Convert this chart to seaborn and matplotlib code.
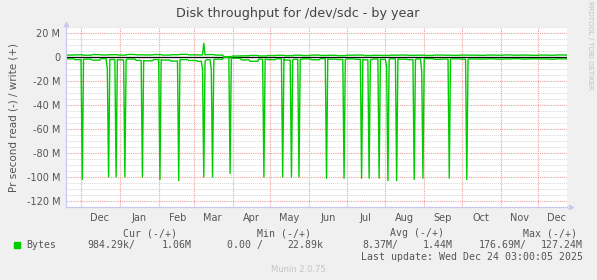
import numpy as np
import pandas as pd
import matplotlib
matplotlib.use("Agg")
import matplotlib.pyplot as plt
import seaborn as sns

# munin yearly graph, values in MB/s, one value per week for the baseline
start_day = "2024-11-19"
end_day = "2025-12-24"

write_weekly = [1.6, 1.8, 1.5, 2.0, 1.7, 1.9, 1.6, 2.1, 1.8, 1.7,
                2.0, 1.6, 1.9, 2.2, 1.8, 1.7, 2.0, 1.6,
                0.3, 0.8,
                1.0, 1.3, 0.9, 1.2, 1.4, 1.1, 1.5, 1.2, 1.6, 1.3,
                1.4, 1.1, 1.5, 1.6, 1.2, 1.4, 1.3, 1.5, 1.6, 1.4,
                1.5, 1.3, 1.6, 1.5, 1.4, 1.6, 1.5, 1.4, 1.6, 1.5,
                1.7, 1.5, 1.6, 1.4, 1.6, 1.5, 1.7, 1.6]
read_weekly = [-1.5, -2.2, -1.8, -2.6, -1.4, -2.0, -2.4, -1.7, -2.8, -3.2,
               -2.1, -2.6, -3.4, -2.2, -2.9, -3.6, -2.3, -1.8,
               -0.4, -1.0,
               -2.4, -3.6, -1.8, -2.2, -1.5, -2.6, -1.9, -1.6, -2.3, -1.4,
               -1.8, -2.1, -1.6, -1.9, -2.4, -1.7, -2.0, -1.5, -1.8, -2.2,
               -1.6, -1.4, -1.9, -1.7, -1.5, -1.8, -1.6, -1.7, -1.5, -1.8,
               -1.6, -1.4, -1.7, -1.5, -1.6, -1.8, -1.5, -1.6]

# big read bursts (backups)
spike_dates = ["2024-12-02", "2024-12-22", "2024-12-23", "2024-12-29", "2025-01-05",
               "2025-01-19", "2025-02-02", "2025-02-17", "2025-03-08", "2025-03-09",
               "2025-03-15", "2025-03-16", "2025-03-30", "2025-04-26", "2025-05-11",
               "2025-05-18", "2025-05-24", "2025-06-15", "2025-06-29", "2025-07-13",
               "2025-07-19", "2025-07-27", "2025-08-02", "2025-08-03", "2025-08-10",
               "2025-08-24", "2025-08-30", "2025-08-31", "2025-09-21", "2025-10-05"]
spike_values = [-102, -10, -100, -100, -100,
                -100, -102, -103, -10, -100,
                -10, -100, -97, -100, -100,
                -100, -100, -101, -101, -101,
                -101, -101, -8, -103, -103,
                -102, -12, -101, -101, -102]
write_spike_dates = ["2025-03-09"]
write_spike_values = [11.5]

month_labels = ["Dec", "Jan", "Feb", "Mar", "Apr", "May", "Jun",
                "Jul", "Aug", "Sep", "Oct", "Nov", "Dec"]
y_ticks = [20, 0, -20, -40, -60, -80, -100, -120]

legend_heads = ["Cur (-/+)", "Min (-/+)", "Avg (-/+)", "Max (-/+)"]
legend_vals = ["984.29k/", "1.06M", "0.00 /", "22.89k",
               "8.37M/", "1.44M", "176.69M/", "127.24M"]
last_update = "Last update: Wed Dec 24 03:00:05 2025"

days = pd.date_range(start_day, end_day, freq="D")
week_idx = np.arange(len(days)) // 7
read = pd.Series(np.array(read_weekly)[week_idx], index=days)
write = pd.Series(np.array(write_weekly)[week_idx], index=days)
read[pd.to_datetime(spike_dates)] = spike_values
write[pd.to_datetime(write_spike_dates)] = write_spike_values

df = pd.DataFrame({"day": days, "read": read.values * 1e6, "write": write.values * 1e6})

sns.set_theme(style="white")
plt.rcParams["font.family"] = ["DejaVu Sans"]
txt = "#555555"
green = "#00cc00"

fig = plt.figure(figsize=(5.97, 2.8), dpi=100, facecolor="#f0f0f0")
ax = fig.add_axes([66 / 597, 73 / 280, 501 / 597, 180 / 280])
ax.set_facecolor("white")

sns.lineplot(data=df, x="day", y="write", color=green, lw=1, ax=ax)
sns.lineplot(data=df, x="day", y="read", color=green, lw=1, ax=ax)
ax.axhline(0, color="black", lw=0.9, zorder=1)

ax.set_xlim(days[0], days[-1])
ax.set_ylim(-125e6, 25e6)

ax.set_yticks([v * 1e6 for v in y_ticks])
ax.set_yticklabels([f"{v} M" if v != 0 else "0" for v in y_ticks])
ax.set_yticks(np.arange(-125e6, 25.1e6, 5e6), minor=True)

month_starts = pd.date_range("2024-12-01", "2025-12-01", freq="MS")
ax.set_xticks(month_starts)
ax.set_xticklabels([])
ax.set_xticks(month_starts + pd.Timedelta(days=15), minor=True)
ax.set_xticklabels(month_labels, minor=True)

ax.tick_params(axis="both", which="both", length=0, colors=txt, labelsize=7)
ax.tick_params(axis="y", pad=4)
ax.tick_params(axis="x", which="minor", pad=4)

ax.yaxis.grid(True, which="minor", color="#d6d6d6", ls=(0, (1, 1)), lw=0.7)
ax.yaxis.grid(True, which="major", color="#f2a0a0", ls=(0, (1, 1)), lw=0.8)
ax.xaxis.grid(True, which="major", color="#f2a0a0", ls=(0, (1, 1)), lw=0.8)
ax.set_axisbelow(True)

for s in ["top", "right"]:
    ax.spines[s].set_visible(False)
for s in ["left", "bottom"]:
    ax.spines[s].set_color("#c8c8f0")
    ax.spines[s].set_linewidth(0.9)
ax.plot(1.008, 0, ">", transform=ax.transAxes, color="#c8c8f0", ms=3, clip_on=False)
ax.plot(0, 1.015, "^", transform=ax.transAxes, color="#c8c8f0", ms=3, clip_on=False)

ax.set_xlabel("")
ax.set_ylabel("Pr second read (-) / write (+)", color=txt, fontsize=7.5, labelpad=6)

fig.text(298 / 597, 1 - 13 / 280, "Disk throughput for /dev/sdc - by year",
         ha="center", va="center", color="#444444", fontsize=9.2)
fig.text(590 / 597, 1 - 45 / 280, "RRDTOOL / TOBI OETIKER", rotation=270,
         ha="center", va="center", color="#c0c0c0", fontsize=5)

mono = dict(family="DejaVu Sans Mono", fontsize=7.15, color=txt, va="center")
for head, x in zip(legend_heads, [123, 257, 390, 523]):
    fig.text(x / 597, 1 - 233 / 280, head, ha="left", **mono)
fig.patches.append(plt.Rectangle((14 / 597, 1 - 248 / 280), 6 / 597, 6 / 280,
                                 transform=fig.transFigure, color=green))
fig.text(26 / 597, 1 - 245 / 280, "Bytes", ha="left", **mono)
for val, x in zip(legend_vals, [135, 192, 263, 323, 398, 453, 527, 583]):
    fig.text(x / 597, 1 - 245 / 280, val, ha="right", **mono)
fig.text(583 / 597, 1 - 257 / 280, last_update, ha="right", **mono)
fig.text(298 / 597, 1 - 269 / 280, "Munin 2.0.75", ha="center", va="center",
         color="#c4c4c4", fontsize=6)

fig.savefig("out.png", dpi=100, facecolor="#f0f0f0")
